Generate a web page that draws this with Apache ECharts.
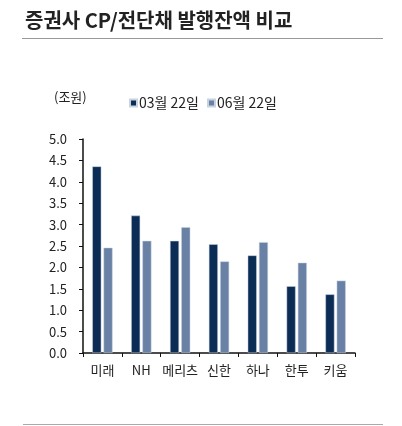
<!DOCTYPE html>
<html><head><meta charset="utf-8">
<script src="https://cdn.jsdelivr.net/npm/echarts@6/dist/echarts.min.js"></script>
<style>html,body{margin:0;padding:0;background:#fff}#c{width:402px;height:426px}</style>
</head><body><div id="c"></div>
<script>
const categories = ['미래','NH','메리츠','신한','하나','한투','키움'];
const seriesMar = [4.36, 3.21, 2.62, 2.54, 2.28, 1.56, 1.37];
const seriesJun = [2.46, 2.62, 2.94, 2.14, 2.59, 2.11, 1.69];
const yTicks = {min:0, max:5, interval:0.5};
const font = '"Noto Sans CJK KR","Noto Sans",sans-serif';
const chart = echarts.init(document.getElementById('c'), null, {renderer:'canvas'});
chart.setOption({
  animation:false,
  textStyle:{fontFamily:font},
  title:{text:'증권사 CP/전단채 발행잔액 비교', left:20, top:5,
    textStyle:{fontSize:20, fontWeight:'bold', color:'#222', fontFamily:font}},
  graphic:[
    {type:'line', shape:{x1:22,y1:38.5,x2:383,y2:38.5}, style:{stroke:'#999',lineWidth:1}},
    {type:'line', shape:{x1:23,y1:424.5,x2:383,y2:424.5}, style:{stroke:'#aaa',lineWidth:1}},
    {type:'text', left:54, top:91, style:{text:'(조원)', fontSize:13, fill:'#222', fontFamily:font}}
  ],
  legend:{left:124, top:91, itemWidth:7, itemHeight:7, itemGap:8, icon:'rect',
    textStyle:{fontSize:14, color:'#222', fontFamily:font, padding:[0,0,0,-3]},
    data:['03월 22일','06월 22일']},
  grid:{left:83, right:47, top:139, bottom:73},
  xAxis:{type:'category', data:categories,
    axisLine:{lineStyle:{color:'#111', width:1.5}},
    axisTick:{show:true, length:4, lineStyle:{color:'#111'}},
    axisLabel:{interval:0, fontSize:13, color:'#222', margin:11, fontFamily:font}},
  yAxis:{type:'value', min:yTicks.min, max:yTicks.max, interval:yTicks.interval,
    splitLine:{show:false},
    axisLine:{show:true, lineStyle:{color:'#111', width:1.5}},
    axisTick:{show:true, length:4, lineStyle:{color:'#111'}},
    axisLabel:{fontSize:13, color:'#222', margin:16, fontFamily:font,
      formatter:v=>v.toFixed(1)}},
  series:[
    {name:'03월 22일', type:'bar', data:seriesMar, barWidth:9, barGap:'25%',
      itemStyle:{color:'#0b2c54', borderColor:'#c9d3e0', borderWidth:0.5}},
    {name:'06월 22일', type:'bar', data:seriesJun, barWidth:9,
      itemStyle:{color:'#6881a5', borderColor:'#c9d3e0', borderWidth:0.5}}
  ]
});
</script></body></html>
